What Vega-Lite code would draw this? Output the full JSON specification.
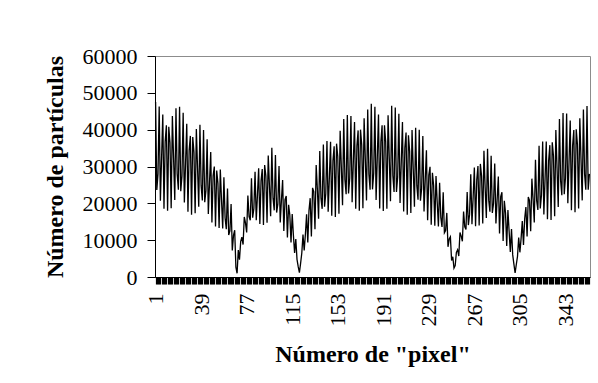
{
  "$schema": "https://vega.github.io/schema/vega-lite/v6.json",
  "width": 435,
  "height": 221,
  "autosize": {"type": "none"},
  "padding": {"left": 155, "top": 56, "right": 8, "bottom": 106},
  "background": "white",
  "config": {
    "view": {"stroke": "#8c8c8c", "strokeWidth": 1},
    "axis": {
      "labelFont": "Liberation Serif",
      "labelFontSize": 22,
      "labelColor": "#000000",
      "titleFont": "Liberation Serif",
      "titleFontSize": 24,
      "titleFontWeight": "bold",
      "titleColor": "#000000",
      "domainColor": "#000000",
      "domainWidth": 1,
      "tickColor": "#000000",
      "tickWidth": 1.2,
      "grid": false
    }
  },
  "data": {
    "values": [
      {"pixel":1,"n":47500},{"pixel":2,"n":23600},{"pixel":3,"n":28000},{"pixel":4,"n":46300},{"pixel":5,"n":20700},{"pixel":6,"n":32400},{"pixel":7,"n":44100},{"pixel":8,"n":18500},{"pixel":9,"n":36800},{"pixel":10,"n":41200},
      {"pixel":11,"n":18000},{"pixel":12,"n":40800},{"pixel":13,"n":36500},{"pixel":14,"n":18700},{"pixel":15,"n":43700},{"pixel":16,"n":32300},{"pixel":17,"n":20900},{"pixel":18,"n":45800},{"pixel":19,"n":28000},{"pixel":20,"n":23700},
      {"pixel":21,"n":46200},{"pixel":22,"n":23300},{"pixel":23,"n":27400},{"pixel":24,"n":44600},{"pixel":25,"n":20200},{"pixel":26,"n":30900},{"pixel":27,"n":41600},{"pixel":28,"n":17700},{"pixel":29,"n":34400},{"pixel":30,"n":38300},
      {"pixel":31,"n":16900},{"pixel":32,"n":38000},{"pixel":33,"n":33900},{"pixel":34,"n":17300},{"pixel":35,"n":40200},{"pixel":36,"n":29600},{"pixel":37,"n":19100},{"pixel":38,"n":41300},{"pixel":39,"n":24800},{"pixel":40,"n":20800},
      {"pixel":41,"n":39900},{"pixel":42,"n":20300},{"pixel":43,"n":23400},{"pixel":44,"n":37400},{"pixel":45,"n":17100},{"pixel":46,"n":25700},{"pixel":47,"n":33900},{"pixel":48,"n":14800},{"pixel":49,"n":27500},{"pixel":50,"n":30000},
      {"pixel":51,"n":13700},{"pixel":52,"n":28900},{"pixel":53,"n":25500},{"pixel":54,"n":13300},{"pixel":55,"n":29200},{"pixel":56,"n":20900},{"pixel":57,"n":13200},{"pixel":58,"n":27100},{"pixel":59,"n":16000},{"pixel":60,"n":13000},
      {"pixel":61,"n":24000},{"pixel":62,"n":11400},{"pixel":63,"n":12500},{"pixel":64,"n":19800},{"pixel":65,"n":7200},{"pixel":66,"n":11300},{"pixel":67,"n":12700},{"pixel":68,"n":2700},{"pixel":69,"n":1000},{"pixel":70,"n":7300},
      {"pixel":71,"n":4700},{"pixel":72,"n":9600},{"pixel":73,"n":10800},{"pixel":74,"n":8800},{"pixel":75,"n":16300},{"pixel":76,"n":14700},{"pixel":77,"n":12100},{"pixel":78,"n":22100},{"pixel":79,"n":16400},{"pixel":80,"n":15400},
      {"pixel":81,"n":26800},{"pixel":82,"n":16100},{"pixel":83,"n":18600},{"pixel":84,"n":28600},{"pixel":85,"n":15400},{"pixel":86,"n":22300},{"pixel":87,"n":29500},{"pixel":88,"n":14400},{"pixel":89,"n":26100},{"pixel":90,"n":29300},
      {"pixel":91,"n":14100},{"pixel":92,"n":30400},{"pixel":93,"n":27500},{"pixel":94,"n":14700},{"pixel":95,"n":33000},{"pixel":96,"n":24800},{"pixel":97,"n":16500},{"pixel":98,"n":35100},{"pixel":99,"n":21400},{"pixel":100,"n":18100},
      {"pixel":101,"n":33100},{"pixel":102,"n":17500},{"pixel":103,"n":19800},{"pixel":104,"n":30100},{"pixel":105,"n":14800},{"pixel":106,"n":20800},{"pixel":107,"n":26300},{"pixel":108,"n":12500},{"pixel":109,"n":21000},{"pixel":110,"n":22000},
      {"pixel":111,"n":10700},{"pixel":112,"n":19600},{"pixel":113,"n":16800},{"pixel":114,"n":9400},{"pixel":115,"n":17100},{"pixel":116,"n":11300},{"pixel":117,"n":6500},{"pixel":118,"n":10300},{"pixel":119,"n":4800},{"pixel":120,"n":2800},
      {"pixel":121,"n":1200},{"pixel":122,"n":3700},{"pixel":123,"n":6500},{"pixel":124,"n":11500},{"pixel":125,"n":7200},{"pixel":126,"n":11600},{"pixel":127,"n":17000},{"pixel":128,"n":9400},{"pixel":129,"n":18100},{"pixel":130,"n":21400},
      {"pixel":131,"n":11000},{"pixel":132,"n":24200},{"pixel":133,"n":23200},{"pixel":134,"n":13000},{"pixel":135,"n":30400},{"pixel":136,"n":23800},{"pixel":137,"n":15800},{"pixel":138,"n":34200},{"pixel":139,"n":21400},{"pixel":140,"n":18500},
      {"pixel":141,"n":36000},{"pixel":142,"n":19100},{"pixel":143,"n":22600},{"pixel":144,"n":36900},{"pixel":145,"n":17700},{"pixel":146,"n":27000},{"pixel":147,"n":36700},{"pixel":148,"n":16600},{"pixel":149,"n":31600},{"pixel":150,"n":35500},
      {"pixel":151,"n":16300},{"pixel":152,"n":36200},{"pixel":153,"n":32800},{"pixel":154,"n":17200},{"pixel":155,"n":39700},{"pixel":156,"n":29800},{"pixel":157,"n":19500},{"pixel":158,"n":42900},{"pixel":159,"n":26400},{"pixel":160,"n":22500},
      {"pixel":161,"n":44000},{"pixel":162,"n":22700},{"pixel":163,"n":26800},{"pixel":164,"n":43700},{"pixel":165,"n":20300},{"pixel":166,"n":31200},{"pixel":167,"n":42100},{"pixel":168,"n":18500},{"pixel":169,"n":35600},{"pixel":170,"n":39800},
      {"pixel":171,"n":18000},{"pixel":172,"n":40000},{"pixel":173,"n":35900},{"pixel":174,"n":18700},{"pixel":175,"n":43100},{"pixel":176,"n":32000},{"pixel":177,"n":20800},{"pixel":178,"n":45500},{"pixel":179,"n":27900},{"pixel":180,"n":23700},
      {"pixel":181,"n":47000},{"pixel":182,"n":23800},{"pixel":183,"n":28100},{"pixel":184,"n":46200},{"pixel":185,"n":20900},{"pixel":186,"n":32500},{"pixel":187,"n":44100},{"pixel":188,"n":18600},{"pixel":189,"n":36800},{"pixel":190,"n":41200},
      {"pixel":191,"n":17900},{"pixel":192,"n":41200},{"pixel":193,"n":36800},{"pixel":194,"n":18500},{"pixel":195,"n":43900},{"pixel":196,"n":32200},{"pixel":197,"n":20600},{"pixel":198,"n":46500},{"pixel":199,"n":27500},{"pixel":200,"n":23100},
      {"pixel":201,"n":46000},{"pixel":202,"n":23100},{"pixel":203,"n":27100},{"pixel":204,"n":44300},{"pixel":205,"n":20100},{"pixel":206,"n":31100},{"pixel":207,"n":42100},{"pixel":208,"n":17800},{"pixel":209,"n":35100},{"pixel":210,"n":39200},
      {"pixel":211,"n":16900},{"pixel":212,"n":38500},{"pixel":213,"n":34100},{"pixel":214,"n":17400},{"pixel":215,"n":39900},{"pixel":216,"n":29300},{"pixel":217,"n":19100},{"pixel":218,"n":40500},{"pixel":219,"n":24800},{"pixel":220,"n":21000},
      {"pixel":221,"n":40000},{"pixel":222,"n":20700},{"pixel":223,"n":24000},{"pixel":224,"n":38300},{"pixel":225,"n":17800},{"pixel":226,"n":26400},{"pixel":227,"n":34400},{"pixel":228,"n":15400},{"pixel":229,"n":27700},{"pixel":230,"n":29900},
      {"pixel":231,"n":14200},{"pixel":232,"n":28300},{"pixel":233,"n":24900},{"pixel":234,"n":13900},{"pixel":235,"n":27400},{"pixel":236,"n":20300},{"pixel":237,"n":13700},{"pixel":238,"n":25600},{"pixel":239,"n":16200},{"pixel":240,"n":13600},
      {"pixel":241,"n":23000},{"pixel":242,"n":12000},{"pixel":243,"n":12600},{"pixel":244,"n":17400},{"pixel":245,"n":8200},{"pixel":246,"n":10300},{"pixel":247,"n":10900},{"pixel":248,"n":4500},{"pixel":249,"n":5500},{"pixel":250,"n":2400},
      {"pixel":251,"n":3100},{"pixel":252,"n":6700},{"pixel":253,"n":7400},{"pixel":254,"n":5700},{"pixel":255,"n":12100},{"pixel":256,"n":11100},{"pixel":257,"n":9700},{"pixel":258,"n":17800},{"pixel":259,"n":13600},{"pixel":260,"n":12900},
      {"pixel":261,"n":23100},{"pixel":262,"n":14100},{"pixel":263,"n":17000},{"pixel":264,"n":27900},{"pixel":265,"n":14300},{"pixel":266,"n":21800},{"pixel":267,"n":29700},{"pixel":268,"n":13800},{"pixel":269,"n":26400},{"pixel":270,"n":30100},
      {"pixel":271,"n":14000},{"pixel":272,"n":30700},{"pixel":273,"n":27500},{"pixel":274,"n":14500},{"pixel":275,"n":34300},{"pixel":276,"n":24300},{"pixel":277,"n":16000},{"pixel":278,"n":34800},{"pixel":279,"n":20800},{"pixel":280,"n":17700},
      {"pixel":281,"n":32900},{"pixel":282,"n":17400},{"pixel":283,"n":20000},{"pixel":284,"n":30800},{"pixel":285,"n":14500},{"pixel":286,"n":21000},{"pixel":287,"n":27300},{"pixel":288,"n":11800},{"pixel":289,"n":21800},{"pixel":290,"n":23000},
      {"pixel":291,"n":9800},{"pixel":292,"n":20700},{"pixel":293,"n":17400},{"pixel":294,"n":8400},{"pixel":295,"n":18200},{"pixel":296,"n":12500},{"pixel":297,"n":6800},{"pixel":298,"n":13000},{"pixel":299,"n":6000},{"pixel":300,"n":3500},
      {"pixel":301,"n":1100},{"pixel":302,"n":3400},{"pixel":303,"n":5600},{"pixel":304,"n":10700},{"pixel":305,"n":6700},{"pixel":306,"n":10500},{"pixel":307,"n":15200},{"pixel":308,"n":8700},{"pixel":309,"n":15900},{"pixel":310,"n":19000},
      {"pixel":311,"n":11000},{"pixel":312,"n":21700},{"pixel":313,"n":20800},{"pixel":314,"n":12400},{"pixel":315,"n":26700},{"pixel":316,"n":21200},{"pixel":317,"n":14800},{"pixel":318,"n":31800},{"pixel":319,"n":20700},{"pixel":320,"n":18200},
      {"pixel":321,"n":35600},{"pixel":322,"n":18600},{"pixel":323,"n":22200},{"pixel":324,"n":36800},{"pixel":325,"n":17000},{"pixel":326,"n":26700},{"pixel":327,"n":36800},{"pixel":328,"n":15700},{"pixel":329,"n":31600},{"pixel":330,"n":35800},
      {"pixel":331,"n":15500},{"pixel":332,"n":36600},{"pixel":333,"n":32900},{"pixel":334,"n":16500},{"pixel":335,"n":39900},{"pixel":336,"n":29600},{"pixel":337,"n":19000},{"pixel":338,"n":42900},{"pixel":339,"n":26100},{"pixel":340,"n":22200},
      {"pixel":341,"n":44500},{"pixel":342,"n":22500},{"pixel":343,"n":26800},{"pixel":344,"n":44400},{"pixel":345,"n":20000},{"pixel":346,"n":31200},{"pixel":347,"n":42500},{"pixel":348,"n":18100},{"pixel":349,"n":35700},{"pixel":350,"n":39900},
      {"pixel":351,"n":17600},{"pixel":352,"n":40100},{"pixel":353,"n":36000},{"pixel":354,"n":18600},{"pixel":355,"n":43100},{"pixel":356,"n":32000},{"pixel":357,"n":20800},{"pixel":358,"n":45500},{"pixel":359,"n":27900},{"pixel":360,"n":23700},
      {"pixel":361,"n":46400},{"pixel":362,"n":23700},{"pixel":363,"n":28000}
    ]
  },
  "mark": {"type": "line", "color": "#000000", "strokeWidth": 1.3},
  "encoding": {
    "x": {
      "field": "pixel",
      "type": "quantitative",
      "scale": {"domain": [0.5, 363.5], "nice": false, "zero": false},
      "axis": {
        "title": "Número de \"pixel\"",
        "tickCount": 363,
        "format": "d",
        "labelExpr": "(datum.value - 1) % 38 == 0 ? datum.label : ''",
        "labelAngle": 270,
        "labelOverlap": false,
        "labelFlush": false,
        "tickSize": 7,
        "labelPadding": 9,
        "titlePadding": 16
      }
    },
    "y": {
      "field": "n",
      "type": "quantitative",
      "scale": {"domain": [0, 60000], "nice": false},
      "axis": {
        "title": "Número de partículas",
        "values": [0, 10000, 20000, 30000, 40000, 50000, 60000],
        "format": "d",
        "tickSize": 8,
        "tickWidth": 1,
        "labelPadding": 10,
        "titlePadding": 15
      }
    }
  }
}
